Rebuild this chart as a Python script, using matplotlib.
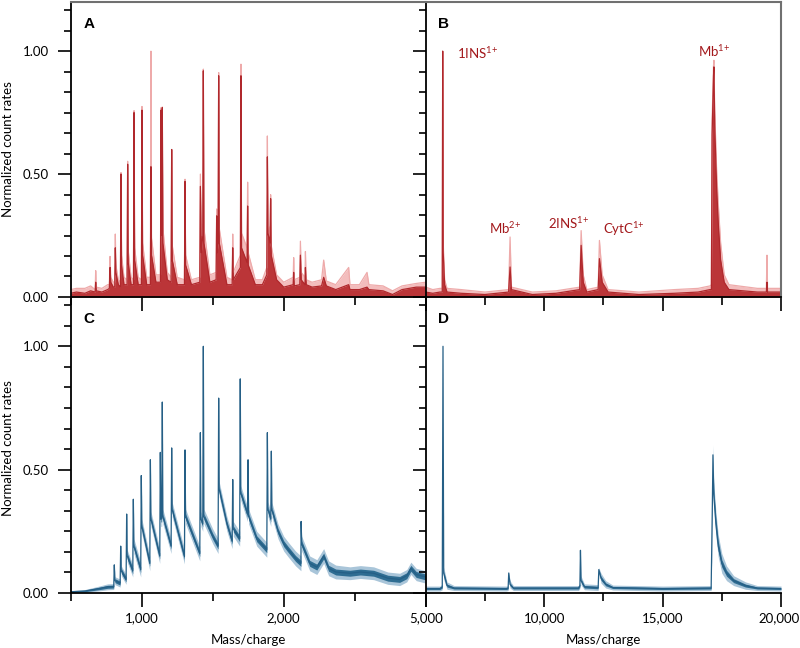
import numpy as np
import matplotlib
matplotlib.use("Agg")
import matplotlib.pyplot as plt
from matplotlib.ticker import FixedLocator, MultipleLocator, FuncFormatter, NullFormatter

plt.rcParams['font.family'] = ['Lato', 'DejaVu Sans']
plt.rcParams['mathtext.fontset'] = 'custom'
plt.rcParams['mathtext.rm'] = 'Lato'

# ---- panel A : red spectrum, m/z 500-5000 (dark = mean trace, light = upper trace)
a_mz = [500, 540, 600, 640, 672, 676, 680, 720, 760,
        772, 777, 782, 800,
        810, 814, 818, 835,
        850, 854, 858, 875,
        897, 901, 905, 925,
        942, 946, 950, 975,
        998, 1002, 1006, 1035,
        1061, 1065, 1069, 1100,
        1132, 1136, 1140, 1145, 1149, 1180,
        1207, 1211, 1215, 1250,
        1301, 1305, 1309, 1350,
        1409, 1413, 1420, 1430, 1434, 1438, 1480,
        1524, 1528, 1532, 1538, 1542, 1546, 1600,
        1637, 1641, 1645, 1695, 1699, 1703, 1742, 1746, 1750, 1800,
        1850, 1881, 1885, 1889, 1904, 1908, 1912, 1950,
        2000, 2100, 2200, 2211, 2222,
        2340, 2353, 2370, 2450, 2459, 2475,
        2600, 2800, 2845, 2900,
        3100, 3373, 3400, 3600, 3761, 3800, 4100, 4300, 4500, 4800, 5000]
a_dark = [0.015, 0.02, 0.015, 0.025, 0.02, 0.06, 0.025, 0.02, 0.03,
          0.035, 0.12, 0.06, 0.04,
          0.04, 0.2, 0.1, 0.05,
          0.04, 0.5, 0.13, 0.05,
          0.05, 0.54, 0.14, 0.05,
          0.05, 0.75, 0.15, 0.05,
          0.05, 0.76, 0.17, 0.05,
          0.05, 0.53, 0.17, 0.06,
          0.06, 0.76, 0.25, 0.77, 0.22, 0.07,
          0.06, 0.6, 0.15, 0.05,
          0.05, 0.47, 0.13, 0.05,
          0.06, 0.45, 0.18, 0.25, 0.92, 0.22, 0.06,
          0.07, 0.33, 0.18, 0.22, 0.9, 0.22, 0.05,
          0.05, 0.2, 0.07, 0.12, 0.9, 0.2, 0.14, 0.37, 0.13, 0.05,
          0.05, 0.09, 0.57, 0.26, 0.22, 0.4, 0.17, 0.07,
          0.04, 0.045, 0.05, 0.1, 0.045,
          0.05, 0.17, 0.07, 0.05, 0.12, 0.05,
          0.04, 0.045, 0.08, 0.045,
          0.03, 0.05, 0.03, 0.03, 0.04, 0.03, 0.025, 0.01, 0.03, 0.04, 0.04]
a_light = [0.03, 0.035, 0.035, 0.045, 0.03, 0.107, 0.04, 0.035, 0.05,
           0.05, 0.165, 0.08, 0.06,
           0.06, 0.256, 0.13, 0.07,
           0.06, 0.506, 0.17, 0.08,
           0.07, 0.552, 0.19, 0.08,
           0.07, 0.758, 0.2, 0.08,
           0.07, 0.775, 0.22, 0.08,
           0.08, 1.0, 0.24, 0.09,
           0.09, 0.77, 0.33, 0.773, 0.28, 0.1,
           0.08, 0.6, 0.21, 0.08,
           0.07, 0.479, 0.17, 0.07,
           0.08, 0.5, 0.25, 0.3, 0.927, 0.28, 0.09,
           0.1, 0.358, 0.22, 0.26, 0.913, 0.28, 0.08,
           0.07, 0.256, 0.1, 0.17, 0.947, 0.26, 0.2, 0.467, 0.18, 0.07,
           0.07, 0.12, 0.655, 0.3, 0.26, 0.416, 0.21, 0.09,
           0.06, 0.07, 0.08, 0.16, 0.07,
           0.08, 0.227, 0.1, 0.08, 0.185, 0.07,
           0.06, 0.07, 0.15, 0.065,
           0.05, 0.12, 0.05, 0.05, 0.1, 0.05, 0.045, 0.025, 0.045, 0.055, 0.06]

# ---- panel B : red spectrum, m/z 5000-20000
b_mz = [5000, 5300, 5600, 5700, 5718, 5740, 5800, 5900, 6500, 7500,
        8500, 8562, 8620, 9500, 10500,
        11500, 11562, 11650, 11800, 12280, 12334, 12450, 12700,
        14000, 15500, 16500, 17000, 17060, 17090, 17150, 17167, 17200, 17280, 17350, 17450, 17600, 17800,
        19000, 19380, 19407, 19430, 20000]
b_dark = [0.02, 0.015, 0.02, 0.02, 1.0, 0.18, 0.05, 0.02, 0.015, 0.01,
          0.02, 0.122, 0.03, 0.01, 0.015,
          0.03, 0.21, 0.06, 0.02, 0.03, 0.156, 0.06, 0.02,
          0.01, 0.015, 0.02, 0.03, 0.03, 0.66, 0.9, 0.936, 0.7, 0.45, 0.3, 0.15, 0.06, 0.03,
          0.02, 0.02, 0.06, 0.02, 0.02]
b_light = [0.04, 0.03, 0.035, 0.035, 1.0, 0.22, 0.07, 0.035, 0.03, 0.02,
           0.03, 0.244, 0.04, 0.02, 0.025,
           0.04, 0.27, 0.09, 0.03, 0.04, 0.23, 0.09, 0.03,
           0.02, 0.03, 0.035, 0.045, 0.05, 0.72, 0.94, 0.963, 0.76, 0.52, 0.38, 0.22, 0.09, 0.05,
           0.035, 0.035, 0.17, 0.035, 0.035]
b_labels = ['1INS$^{1{+}}$', 'Mb$^{2{+}}$', '2INS$^{1{+}}$', 'CytC$^{1{+}}$', 'Mb$^{1{+}}$']
b_label_mz = [6336, 7687, 10155, 12504, 16492]
b_label_y = [0.97, 0.258, 0.278, 0.258, 0.977]

# ---- panel C : blue spectrum, m/z 500-5000 (mean, inner and outer half widths)
c_mz = [500, 600, 707, 760,
        803, 807, 811,
        848, 852, 856, 890,
        894, 898, 937,
        941, 945, 993,
        997, 1001, 1057,
        1061, 1065, 1127,
        1131, 1135, 1141, 1145, 1149, 1207,
        1211, 1215, 1301,
        1305, 1309, 1409,
        1413, 1417, 1430, 1434, 1438, 1500, 1538,
        1542, 1546, 1600, 1637,
        1641, 1645, 1690,
        1694, 1698, 1745,
        1749, 1753, 1810, 1881,
        1885, 1889, 1909, 1913, 1917, 1960, 2000,
        2100, 2250, 2364, 2368, 2380, 2550,
        2700, 2845, 2950, 3100, 3400, 3620, 3900, 4200, 4450, 4600, 4687, 4800, 5000]
c_mean = [0.005, 0.008, 0.019, 0.025,
          0.026, 0.114, 0.05,
          0.04, 0.19, 0.09, 0.055,
          0.32, 0.15, 0.09,
          0.38, 0.19, 0.095,
          0.476, 0.27, 0.12,
          0.54, 0.30, 0.15,
          0.57, 0.30, 0.30, 0.774, 0.31, 0.19,
          0.588, 0.337, 0.148,
          0.58, 0.31, 0.16,
          0.65, 0.30, 0.28, 1.0, 0.31, 0.23, 0.19,
          0.79, 0.42, 0.28, 0.21,
          0.46, 0.26, 0.22,
          0.868, 0.405, 0.32,
          0.54, 0.31, 0.22, 0.175,
          0.65, 0.34, 0.30, 0.575, 0.337, 0.25, 0.2,
          0.175, 0.14, 0.12, 0.29, 0.2, 0.12,
          0.105, 0.15, 0.1, 0.085, 0.08, 0.085, 0.08, 0.06, 0.055, 0.07, 0.1, 0.075, 0.065]
c_inner = [0.002, 0.003, 0.005, 0.006,
           0.006, 0.0, 0.008,
           0.008, 0.0, 0.01, 0.01,
           0.0, 0.012, 0.012,
           0.0, 0.012, 0.012,
           0.0, 0.012, 0.012,
           0.0, 0.012, 0.012,
           0.0, 0.012, 0.012, 0.0, 0.012, 0.012,
           0.0, 0.012, 0.012,
           0.0, 0.012, 0.012,
           0.0, 0.012, 0.012, 0.0, 0.012, 0.012, 0.012,
           0.0, 0.012, 0.012, 0.012,
           0.0, 0.012, 0.012,
           0.0, 0.012, 0.012,
           0.0, 0.012, 0.012, 0.012,
           0.0, 0.012, 0.012, 0.0, 0.012, 0.012, 0.012,
           0.012, 0.012, 0.012, 0.0, 0.012, 0.012,
           0.012, 0.012, 0.012, 0.012, 0.012, 0.012, 0.012, 0.012, 0.012, 0.012, 0.012, 0.012, 0.012]
c_outer = [0.004, 0.006, 0.01, 0.012,
           0.012, 0.004, 0.016,
           0.016, 0.004, 0.02, 0.02,
           0.004, 0.025, 0.025,
           0.004, 0.03, 0.03,
           0.004, 0.03, 0.03,
           0.004, 0.03, 0.03,
           0.004, 0.03, 0.03, 0.004, 0.03, 0.03,
           0.004, 0.03, 0.03,
           0.004, 0.03, 0.03,
           0.004, 0.03, 0.03, 0.004, 0.03, 0.03, 0.03,
           0.004, 0.03, 0.03, 0.03,
           0.004, 0.03, 0.03,
           0.004, 0.03, 0.03,
           0.004, 0.03, 0.03, 0.03,
           0.004, 0.03, 0.03, 0.004, 0.03, 0.03, 0.03,
           0.03, 0.03, 0.03, 0.004, 0.03, 0.03,
           0.03, 0.03, 0.03, 0.028, 0.026, 0.026, 0.026, 0.025, 0.025, 0.025, 0.025, 0.025, 0.025]

# ---- panel D : blue spectrum, m/z 5000-20000
d_mz = [5000, 5600, 5700, 5731, 5760, 5900, 6200,
        8400, 8480, 8506, 8560, 8700,
        11450, 11510, 11533, 11560, 11700,
        12280, 12309, 12400, 12600, 12900,
        15000, 17050, 17100, 17126, 17160, 17250, 17350, 17500, 17700, 18000, 18500, 19000, 20000]
d_mean = [0.018, 0.018, 0.025, 1.0, 0.08, 0.03, 0.02,
          0.018, 0.02, 0.081, 0.035, 0.02,
          0.02, 0.03, 0.173, 0.05, 0.025,
          0.022, 0.095, 0.06, 0.035, 0.022,
          0.018, 0.02, 0.35, 0.56, 0.4, 0.28, 0.19, 0.12, 0.08, 0.05, 0.03, 0.02, 0.018]
d_inner = [0.004, 0.004, 0.005, 0.0, 0.01, 0.006, 0.004,
           0.004, 0.004, 0.0, 0.006, 0.004,
           0.004, 0.005, 0.0, 0.008, 0.005,
           0.005, 0.0, 0.008, 0.006, 0.004,
           0.004, 0.004, 0.02, 0.0, 0.025, 0.025, 0.02, 0.015, 0.012, 0.008, 0.006, 0.004, 0.004]
d_outer = [0.01, 0.01, 0.012, 0.004, 0.025, 0.015, 0.01,
           0.01, 0.01, 0.006, 0.015, 0.01,
           0.01, 0.012, 0.006, 0.018, 0.012,
           0.012, 0.008, 0.02, 0.015, 0.01,
           0.01, 0.01, 0.04, 0.04, 0.05, 0.05, 0.045, 0.04, 0.03, 0.02, 0.015, 0.01, 0.01]

RED_DARK, RED_LIGHT, RED_TEXT = '#bb3538', '#f3bdbd', '#a3191c'
BLUE_DARK, BLUE_LIGHT, BLUE_LINE = '#2f6d92', '#a9c5d9', '#255f86'


def fwd(m):
    return np.interp(m, [500, 2000, 5000], [0.0, 3.0, 5.0])


def inv(u):
    return np.interp(u, [0.0, 3.0, 5.0], [500, 2000, 5000])


def draw_red(ax, mz, dark, light):
    ax.fill_between(mz, 0, light, color=RED_LIGHT, lw=0)
    ax.plot(mz, light, color='#eeaaaa', lw=0.9)
    ax.fill_between(mz, 0, dark, color=RED_DARK, lw=0)
    ax.plot(mz, dark, color='#b0282c', lw=0.9)


def draw_blue(ax, mz, mean, inner, outer):
    mz, mean, inner, outer = map(np.asarray, (mz, mean, inner, outer))
    ax.fill_between(mz, np.clip(mean - outer, 0, None), mean + outer, color=BLUE_LIGHT, lw=0)
    ax.fill_between(mz, np.clip(mean - inner, 0, None), mean + inner, color=BLUE_DARK, lw=0)
    ax.plot(mz, mean, color=BLUE_LINE, lw=0.9)


def style_axes(ax, left_panel, top_row):
    ax.set_facecolor('none')
    ax.set_ylim(0, 1.2)
    ax.yaxis.set_major_locator(FixedLocator([0, 0.5, 1.0]))
    ax.yaxis.set_minor_locator(MultipleLocator(1 / 12))
    ax.yaxis.set_major_formatter(FuncFormatter(lambda v, p: f'{v:.2f}'))
    if left_panel:
        ax.set_xscale('function', functions=(fwd, inv))
        ax.set_xlim(500, 5000)
        ax.xaxis.set_major_locator(FixedLocator([1000, 2000, 5000]))
        ax.xaxis.set_minor_locator(FixedLocator([500, 1500, 3500]))
        ax.xaxis.set_major_formatter(FuncFormatter(lambda v, p: f'{v:,.0f}' if v < 5000 else ''))
    else:
        ax.set_xlim(5000, 20000)
        ax.xaxis.set_major_locator(FixedLocator([5000, 10000, 15000, 20000]))
        ax.xaxis.set_minor_locator(FixedLocator([7500, 12500, 17500]))
        ax.xaxis.set_major_formatter(FuncFormatter(lambda v, p: f'{v:,.0f}' if v < 20000 else ''))
    ax.xaxis.set_minor_formatter(NullFormatter())
    ax.tick_params(axis='y', which='major', direction='out', length=9.5, width=1.2,
                   pad=6.5, labelsize=9.5, labelleft=left_panel)
    ax.tick_params(axis='y', which='minor', direction='out', length=5, width=1.2)
    ax.tick_params(axis='x', which='major', direction='out', length=10, width=1.2,
                   pad=4, labelsize=9.5, labelbottom=not top_row)
    ax.tick_params(axis='x', which='minor', direction='out', length=5.5, width=1.2)
    for side in ['left', 'bottom']:
        ax.spines[side].set_color('black')
        ax.spines[side].set_linewidth(1.3)
    ax.spines['top'].set_visible(top_row)
    ax.spines['top'].set_color('#707070')
    ax.spines['top'].set_linewidth(1.5)
    # only panel B shows a right border
    ax.spines['right'].set_visible(top_row and not left_panel)
    ax.spines['right'].set_color('#707070')
    ax.spines['right'].set_linewidth(1.5)


fig = plt.figure(figsize=(8, 6.48), dpi=100)
L, M, R = 0.0884, 0.5321, 0.9763
T, H, B = 0.9969, 0.5417, 0.0849
axA = fig.add_axes([L, H, M - L, T - H])
axB = fig.add_axes([M, H, R - M, T - H])
axC = fig.add_axes([L, B, M - L, H - B])
axD = fig.add_axes([M, B, R - M, H - B])

for ax, left, top in [(axA, True, True), (axB, False, True), (axC, True, False), (axD, False, False)]:
    style_axes(ax, left, top)

draw_red(axA, a_mz, a_dark, a_light)
draw_red(axB, b_mz, b_dark, b_light)
draw_blue(axC, c_mz, c_mean, c_inner, c_outer)
draw_blue(axD, d_mz, d_mean, d_inner, d_outer)

for name, x, y in zip(b_labels, b_label_mz, b_label_y):
    axB.text(x, y, name, color=RED_TEXT, fontsize=9.5, ha='left', va='baseline')

for ax, letter in [(axA, 'A'), (axB, 'B'), (axC, 'C'), (axD, 'D')]:
    ax.text(0.035, 0.925, letter, transform=ax.transAxes, fontsize=11,
            fontweight='bold', family='Liberation Sans', ha='left', va='center')

# last tick label of panel D sits at the figure edge, keep it inside
fig.text(0.999, 1 - 612.5 / 648, '20,000', ha='right', va='top', fontsize=9.5)

fig.text(0.0094, 1 - 149.5 / 648, 'Normalized count rates', rotation=90, ha='center', va='center', fontsize=9.5)
fig.text(0.0094, 1 - 448 / 648, 'Normalized count rates', rotation=90, ha='center', va='center', fontsize=9.5)
fig.text(0.31, 1 - 640 / 648, 'Mass/charge', ha='center', va='center', fontsize=9.5)
fig.text(0.7543, 1 - 640 / 648, 'Mass/charge', ha='center', va='center', fontsize=9.5)

fig.savefig('out.png', dpi=100, facecolor='white')
